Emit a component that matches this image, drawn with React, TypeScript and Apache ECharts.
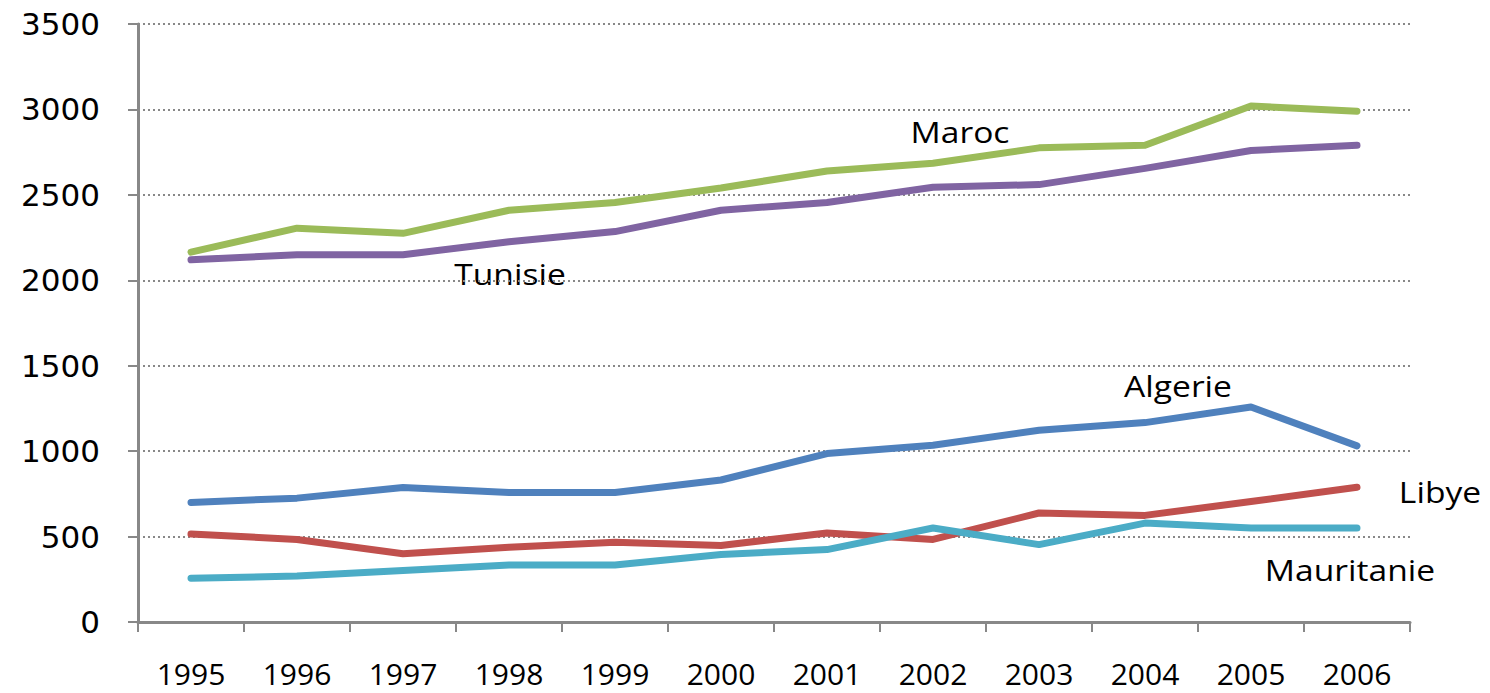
import React, { useEffect, useRef } from "react";
import * as echarts from "echarts";

const years = ["1995", "1996", "1997", "1998", "1999", "2000", "2001", "2002", "2003", "2004", "2005", "2006"];
const maroc = [2165, 2305, 2275, 2410, 2455, 2540, 2640, 2685, 2775, 2790, 3020, 2990];
const tunisie = [2120, 2150, 2150, 2225, 2285, 2410, 2455, 2545, 2560, 2655, 2760, 2790];
const algerie = [700, 725, 787, 758, 758, 831, 986, 1035, 1122, 1167, 1258, 1031];
const libye = [515, 483, 399, 438, 467, 448, 521, 483, 638, 624, 705, 789];
const mauritanie = [256, 269, 302, 333, 333, 395, 424, 550, 453, 579, 550, 550];

const labelFont = "'Open Sans', sans-serif";

export default function App() {
  const ref = useRef<HTMLDivElement>(null);
  useEffect(() => {
    if (!ref.current) return;
    const chart = echarts.init(ref.current, null, { renderer: "svg" });
    const mk = (name: string, data: number[], color: string) => ({
      name,
      type: "line",
      data,
      symbol: "none",
      lineStyle: { color, width: 7, cap: "round", join: "round" },
      itemStyle: { color },
    });
    const txt = (t: string, x: number, y: number) => ({
      type: "text",
      x,
      y,
      style: {
        text: t,
        fontFamily: labelFont,
        fontSize: 30,
        fill: "#000",
        align: "center",
        verticalAlign: "middle",
      },
      scaleX: 1.12,
    });
    chart.setOption({
      animation: false,
      backgroundColor: "#fff",
      grid: { left: 138, right: 80, top: 24, bottom: 71, containLabel: false },
      xAxis: {
        type: "category",
        data: years,
        boundaryGap: true,
        axisLine: { show: true, lineStyle: { color: "#888", width: 3 } },
        axisTick: { show: true, length: 10, lineStyle: { color: "#888", width: 2 } },
        axisLabel: {
          margin: 36,
          fontFamily: labelFont,
          fontSize: 30,
          lineHeight: 30,
          color: "#000",
        },
        splitLine: { show: false },
      },
      yAxis: {
        type: "value",
        min: 0,
        max: 3500,
        interval: 500,
        axisLine: { show: true, lineStyle: { color: "#888", width: 3 } },
        axisTick: { show: true, length: 10, lineStyle: { color: "#888", width: 2 } },
        axisLabel: {
          margin: 38,
          fontFamily: "'DejaVu Sans', sans-serif",
          fontSize: 31,
          color: "#000",
          formatter: (v: number) => String(v),
        },
        splitLine: { show: true, lineStyle: { color: "#888", width: 2, type: [2, 3] } },
      },
      series: [
        mk("Algerie", algerie, "#4F81BD"),
        mk("Libye", libye, "#C0504D"),
        mk("Mauritanie", mauritanie, "#4BACC6"),
        mk("Tunisie", tunisie, "#8064A2"),
        mk("Maroc", maroc, "#9BBB59"),
      ],
      graphic: [
        txt("Maroc", 960, 131),
        txt("Tunisie", 510, 273),
        txt("Algerie", 1178, 385),
        txt("Libye", 1440, 491),
        txt("Mauritanie", 1350, 569),
      ],
    });
    return () => chart.dispose();
  }, []);
  return (
    <div
      ref={ref}
      style={{ position: "fixed", left: 0, top: 0, width: 1490, height: 693 }}
    />
  );
}
